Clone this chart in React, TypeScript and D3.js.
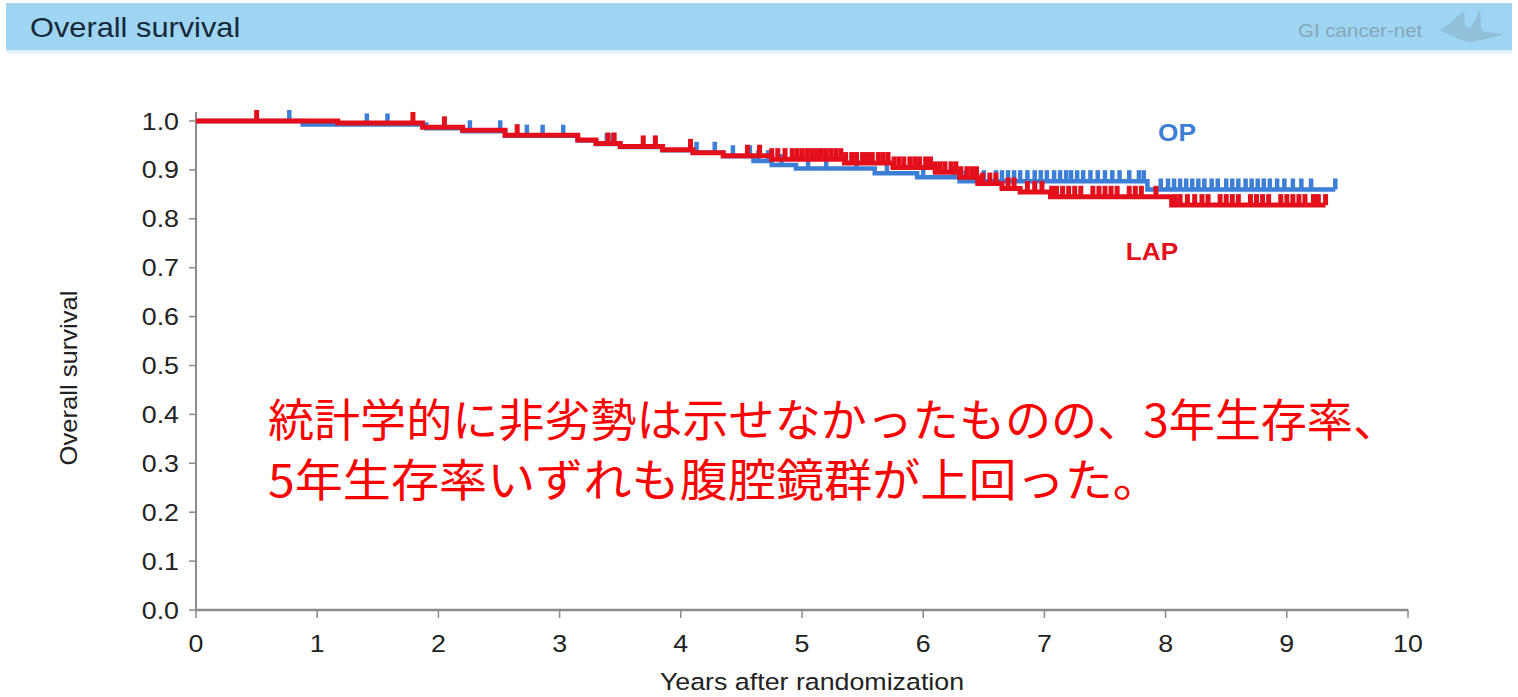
import React from "react";
import * as d3 from "d3";

// ---- data ----
const xTicks = [0, 1, 2, 3, 4, 5, 6, 7, 8, 9, 10];
const yTicks = [0, 0.1, 0.2, 0.3, 0.4, 0.5, 0.6, 0.7, 0.8, 0.9, 1.0];

// Kaplan-Meier steps: [time (years), survival]
const opSteps: [number, number][] = [
  [0, 1.0], [0.88, 0.993], [1.9, 0.985], [2.2, 0.979], [2.55, 0.97], [3.15, 0.96],
  [3.3, 0.953], [3.5, 0.947], [3.85, 0.94], [4.1, 0.935], [4.35, 0.928], [4.6, 0.918],
  [4.75, 0.91], [4.95, 0.903], [5.6, 0.893], [5.95, 0.885], [6.3, 0.877], [7.85, 0.86],
];
const opEnd = 9.4;
const opCensor = [
  0.77, 1.41, 1.58, 2.26, 2.51, 2.73, 2.86, 3.03, 3.39, 3.44, 3.79, 4.13, 4.28, 4.43,
  4.57, 4.64, 4.72, 4.83, 5.05, 5.2, 5.45, 5.7, 6.0, 6.25, 6.35, 6.5, 6.6, 6.65, 6.7,
  6.75, 6.8, 6.86, 6.92, 6.97, 7.02, 7.08, 7.13, 7.18, 7.22, 7.27, 7.32, 7.38, 7.44,
  7.5, 7.56, 7.62, 7.7, 7.78, 7.82, 7.96, 8.02, 8.07, 8.12, 8.17, 8.22, 8.27, 8.32,
  8.38, 8.43, 8.5, 8.55, 8.6, 8.66, 8.71, 8.76, 8.81, 8.86, 8.92, 8.98, 9.05, 9.12,
  9.2, 9.4,
];

const lapSteps: [number, number][] = [
  [0, 1.0], [1.17, 0.996], [1.87, 0.987], [2.2, 0.981], [2.55, 0.971], [3.15, 0.961],
  [3.3, 0.954], [3.5, 0.948], [3.85, 0.941], [4.1, 0.935], [4.35, 0.929], [4.75, 0.922],
  [5.35, 0.914], [5.75, 0.905], [6.1, 0.895], [6.3, 0.885], [6.45, 0.872], [6.65, 0.862],
  [6.8, 0.855], [7.05, 0.845], [8.05, 0.828],
];
const lapEnd = 9.32;
const lapCensor = [
  0.5, 1.79, 2.05, 2.65, 3.4, 3.45, 3.69, 3.79, 4.08, 4.55, 4.65, 4.75, 4.8, 4.86,
  4.92, 4.96, 5.0, 5.04, 5.08, 5.12, 5.16, 5.2, 5.24, 5.28, 5.32, 5.36, 5.41, 5.45,
  5.5, 5.54, 5.58, 5.63, 5.67, 5.71, 5.76, 5.8, 5.84, 5.89, 5.93, 5.97, 6.02, 6.06,
  6.1, 6.14, 6.18, 6.23, 6.27, 6.31, 6.36, 6.4, 6.44, 6.49, 6.55, 6.6, 6.7, 6.75,
  6.86, 6.92, 6.98, 7.06, 7.1, 7.15, 7.2, 7.25, 7.3, 7.4, 7.45, 7.5, 7.55, 7.6, 7.7,
  7.75, 7.8, 7.92, 8.08, 8.12, 8.18, 8.24, 8.3, 8.35, 8.45, 8.5, 8.55, 8.6, 8.7, 8.75,
  8.8, 8.85, 8.95, 9.0, 9.05, 9.1, 9.15, 9.22, 9.26, 9.32,
];

const headerTitle = "Overall survival";
const brandText = "GI cancer-net";
const xTitle = "Years after randomization";
const yTitle = "Overall survival";
const noteLines = [
  "統計学的に非劣勢は示せなかったものの、3年生存率、",
  "5年生存率いずれも腹腔鏡群が上回った。",
];

const BLUE = "#3d7ed6";
const RED = "#e3101c";
const SX = 1.14; // horizontal stretch of the source slide text

export default function App() {
  const x = d3.scaleLinear().domain([0, 10]).range([196, 1408]);
  const y = d3.scaleLinear().domain([0, 1]).range([610, 121]);

  const stepLine = d3
    .line<[number, number]>()
    .x((d) => x(d[0]))
    .y((d) => y(d[1]))
    .curve(d3.curveStepAfter);

  const survAt = (steps: [number, number][], t: number) => {
    let s = steps[0][1];
    for (const [tt, ss] of steps) if (tt <= t) s = ss;
    return s;
  };

  const opPts: [number, number][] = [...opSteps, [opEnd, opSteps[opSteps.length - 1][1]]];
  const lapPts: [number, number][] = [...lapSteps, [lapEnd, lapSteps[lapSteps.length - 1][1]]];

  const axisColor = "#8a8a8a";
  const sans = "'Liberation Sans', Arial, sans-serif";

  const T = (
    px: number,
    py: number,
    s: string,
    size: number,
    anchor: "start" | "middle" | "end",
    fill: string,
    weight: string = "normal",
    key?: string
  ) => (
    <text
      key={key}
      transform={`translate(${px},${py}) scale(${SX},1)`}
      textAnchor={anchor}
      fontFamily={sans}
      fontSize={size}
      fontWeight={weight}
      fill={fill}
    >
      {s}
    </text>
  );

  return (
    <svg
      width={1518}
      height={697}
      style={{ position: "absolute", left: 0, top: 0, background: "#fff" }}
    >
      <defs>
        <linearGradient id="hdrShadow" x1="0" y1="0" x2="0" y2="1">
          <stop offset="0" stopColor="#d9eef8" />
          <stop offset="1" stopColor="#ffffff" />
        </linearGradient>
      </defs>
      {/* header */}
      <rect x={6} y={3} width={1506} height={47} fill="#9dd5f2" />
      <rect x={6} y={50} width={1506} height={6} fill="url(#hdrShadow)" />
      {T(30, 37, headerTitle, 27, "start", "#17283a")}
      {T(1298, 37, brandText, 18, "start", "#8aa5b6")}
      <path
        d="M1440,30 C1452,24 1458,14 1464,12 C1466,20 1462,26 1470,28 C1476,20 1478,12 1480,10 C1482,22 1478,30 1486,32 L1504,34 C1494,38 1480,40 1470,42 C1460,40 1452,36 1440,30 Z"
        fill="#86aec2"
        opacity={0.55}
      />

      {/* axes */}
      <line x1={196} y1={112} x2={196} y2={610} stroke={axisColor} strokeWidth={2} />
      <line x1={196} y1={610} x2={1408} y2={610} stroke={axisColor} strokeWidth={2.5} />
      {yTicks.map((t) => (
        <g key={"y" + t}>
          <line x1={189} x2={196} y1={y(t)} y2={y(t)} stroke={axisColor} strokeWidth={1.5} />
          {T(179, y(t) + 8.5, t.toFixed(1), 23.5, "end", "#222")}
        </g>
      ))}
      {xTicks.map((t) => (
        <g key={"x" + t}>
          <line x1={x(t)} x2={x(t)} y1={610} y2={618} stroke={axisColor} strokeWidth={1.5} />
          {T(x(t), 652, String(t), 23.5, "middle", "#222")}
        </g>
      ))}
      {T(812, 690, xTitle, 23.5, "middle", "#222")}
      <text
        transform="translate(77,378) rotate(-90)"
        textAnchor="middle"
        fontFamily={sans}
        fontSize={24}
        textLength={175}
        lengthAdjust="spacingAndGlyphs"
        fill="#222"
      >
        {yTitle}
      </text>

      {/* curves */}
      <path d={stepLine(opPts) || ""} fill="none" stroke={BLUE} strokeWidth={4.5} />
      {opCensor.map((t, i) => (
        <line
          key={"oc" + i}
          x1={x(t)}
          x2={x(t)}
          y1={y(survAt(opSteps, t))}
          y2={y(survAt(opSteps, t)) - 11}
          stroke={BLUE}
          strokeWidth={4.5}
        />
      ))}
      <path d={stepLine(lapPts) || ""} fill="none" stroke={RED} strokeWidth={5} />
      {lapCensor.map((t, i) => (
        <line
          key={"lc" + i}
          x1={x(t)}
          x2={x(t)}
          y1={y(survAt(lapSteps, t))}
          y2={y(survAt(lapSteps, t)) - 11}
          stroke={RED}
          strokeWidth={5}
        />
      ))}

      {/* labels */}
      {T(1177, 141, "OP", 23, "middle", BLUE, "bold")}
      {T(1152, 260, "LAP", 23, "middle", RED, "bold")}

      {/* note */}
      {noteLines.map((s, i) => (
        <text
          key={"n" + i}
          x={268}
          y={437 + i * 60}
          fontFamily="'Noto Sans CJK JP', sans-serif"
          fontSize={45}
          textLength={i === 0 ? 1131 : 893}
          lengthAdjust="spacingAndGlyphs"
          fill="#ff0000"
        >
          {s}
        </text>
      ))}
    </svg>
  );
}
